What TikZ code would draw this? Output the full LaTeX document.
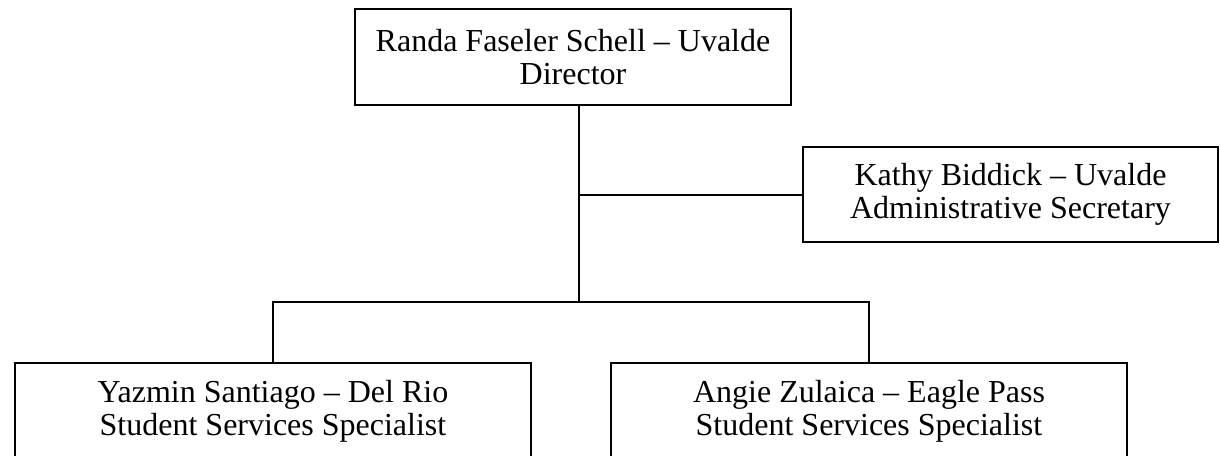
\documentclass[tikz,border=0pt]{standalone}
\usepackage{fontspec}
\setmainfont{Liberation Serif}
\usetikzlibrary{positioning}

\tikzset{
	orgbox/.style={rectangle, draw=black, line width=0.75pt, fill=white, align=center,
		font=\fontsize{12}{12.4}\selectfont, inner sep=1pt},
	orgline/.style={draw=black, line width=0.75pt}
}

\begin{document}
\begin{tikzpicture}[x=0.375pt, y=-0.375pt]
		\useasboundingbox (0,0) rectangle (1220,456);
		\clip (0,0) rectangle (1220,456);
		\def\xt{579}
		\def\ys{302}
		\node[orgbox, minimum width=163.5pt, minimum height=36pt] (dir) at (573,57) {Randa Faseler Schell -- Uvalde\\Director};
		\node[orgbox, minimum width=155.6pt, minimum height=35.6pt] (sec) at (1010.5,194.5) {Kathy Biddick -- Uvalde\\Administrative Secretary};
		\node[orgbox, minimum width=193.5pt, minimum height=36pt] (dr) at (273,411) {Yazmin Santiago -- Del Rio\\Student Services Specialist};
		\node[orgbox, minimum width=193.5pt, minimum height=36pt] (ep) at (869,411) {Angie Zulaica -- Eagle Pass\\Student Services Specialist};
		\coordinate (trunk) at (\xt, 194.5);
		\coordinate (split) at (\xt, \ys);
		\draw[orgline] (dir.south -| trunk) -- (split);
		\draw[orgline] (trunk) -- (sec.west);
		\draw[orgline] (dr.north) |- (split) -| (ep.north);
	\end{tikzpicture}
\end{document}
